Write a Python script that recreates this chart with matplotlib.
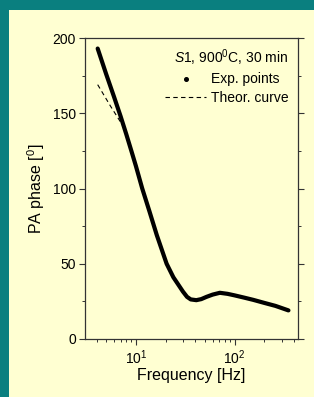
import numpy as np
import matplotlib
matplotlib.use('Agg')
import matplotlib.pyplot as plt
from matplotlib.lines import Line2D
from matplotlib.patches import Rectangle
import matplotlib.ticker as ticker

plt.rcParams['font.family'] = ['Liberation Sans', 'DejaVu Sans']
plt.rcParams['mathtext.fontset'] = 'custom'
plt.rcParams['mathtext.rm'] = 'Liberation Sans'
plt.rcParams['mathtext.it'] = 'Liberation Sans:italic'

exp_freq = [4.1, 5.0, 6.0, 7.0, 8.0, 9.0, 10.0, 11.6, 13.7, 16.3, 20.5, 24, 27, 30, 33,
            36, 41, 46, 52, 60, 71, 85, 100, 125, 155, 200, 260, 352]
exp_phase = [193, 176, 161, 148, 136, 125, 115, 100, 85, 69, 50, 41, 36, 31.5, 28,
             26.3, 25.8, 26.5, 28, 29.5, 30.7, 30, 29, 27.5, 26, 24, 22, 19]

# theoretical curve, low-frequency part differs from the measurement
th_freq = [4.1, 5.5, 7.5, 9.0, 10.0, 11.6, 13.7, 16.3, 20.5, 24, 27, 30, 33,
           36, 41, 46, 52, 60, 71, 85, 100, 125, 155, 200, 260, 352]
th_phase = [169, 155, 141, 125, 115, 100, 85, 69, 50, 41, 36, 31.5, 28,
            26.3, 25.8, 26.5, 28, 29.5, 30.7, 30, 29, 27.5, 26, 24, 22, 19]

teal = '#0a7f7f'
cream = '#ffffd2'

fig = plt.figure(figsize=(3.14, 3.97), dpi=100)
fig.patch.set_facecolor(teal)
fig.patches.append(Rectangle((9 / 314, 0), 1, 1 - 10 / 397, transform=fig.transFigure,
                             facecolor=cream, edgecolor='none', zorder=-1))

ax = fig.add_axes([85 / 314, 1 - 339 / 397, 213 / 314, 301 / 397])
ax.set_facecolor(cream)

ax.plot(th_freq, th_phase, ls=(0, (4, 3)), color='k', lw=0.8)
ax.plot(exp_freq, exp_phase, color='k', lw=3.0, solid_capstyle='round',
        solid_joinstyle='round')

ax.set_xscale('log')
ax.set_xlim(3.05, 440)
ax.set_ylim(0, 200)
ax.yaxis.set_major_locator(ticker.MultipleLocator(50))
ax.yaxis.set_minor_locator(ticker.MultipleLocator(25))
ax.xaxis.set_major_locator(ticker.LogLocator(base=10, numticks=10))
ax.xaxis.set_minor_locator(ticker.LogLocator(base=10, subs=np.arange(2, 10), numticks=10))
ax.xaxis.set_minor_formatter(ticker.NullFormatter())

for s in ax.spines.values():
    s.set_color('#333333')
    s.set_linewidth(0.9)

ax.tick_params(which='both', direction='out', colors='#333333', labelcolor='k',
               labelsize=10, right=True, top=False)
ax.tick_params(which='major', length=4.5, width=0.8, pad=2)
ax.tick_params(which='minor', length=2.2, width=0.7)

ax.set_xlabel('Frequency [Hz]', fontsize=11.5, labelpad=1)
ax.set_ylabel(r'PA phase [$^0$]', fontsize=11.5, labelpad=4)

handles = [Line2D([], [], marker='o', ms=2.6, ls='none', color='k'),
           Line2D([], [], ls=(0, (4, 3)), lw=0.8, color='k')]
leg = ax.legend(handles, ['Exp. points', 'Theor. curve'], loc='upper right',
                frameon=False, fontsize=10, handlelength=3.0, handletextpad=0.3,
                labelspacing=0.3, borderaxespad=0.3, borderpad=0.4,
                title=r'$\mathit{S1}$, 900$^0$C, 30 min', title_fontsize=10,
                alignment='right')

fig.savefig('out.png', dpi=100, facecolor=fig.get_facecolor())
